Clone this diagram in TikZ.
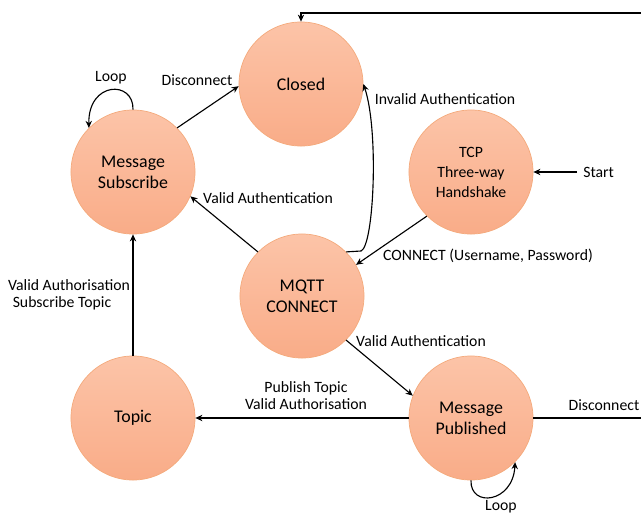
\documentclass[tikz,border=0pt]{standalone}
\usepackage{fontspec}
\setmainfont{Carlito}
\usetikzlibrary{arrows.meta}

\definecolor{sttop}{RGB}{252,196,168}
\definecolor{stbot}{RGB}{249,172,136}
\definecolor{stline}{RGB}{244,170,124}

\begin{document}
\begin{tikzpicture}[x=0.025cm,y=-0.025cm,
  state/.style={circle,minimum size=3.1cm,inner sep=0pt,top color=sttop,bottom color=stbot,draw=stline,line width=0.5pt,font=\fontsize{12.7}{15}\selectfont,align=center},
  small state/.style={state,font=\fontsize{11.2}{14.2}\selectfont},
  lbl/.style={font=\fontsize{11.2}{12.2}\selectfont,inner sep=0pt},
  arr/.style={line width=0.8pt,-{Stealth[length=5pt,width=4.5pt]}},
  ln/.style={line width=0.8pt}]
\useasboundingbox (0,0) rectangle (641,515);

%states
\node[state] (closed) at (301,84) {Closed};
\node[state] (sub) at (133,172) {Message\\Subscribe};
\node[small state] (tcp) at (471,172) {TCP\\Three-way\\Handshake};
\node[state] (mqtt) at (302,296) {MQTT\\CONNECT};
\node[state] (topic) at (133,418) {Topic};
\node[state] (pub) at (471,418) {Message\\Published};

%free ends
\coordinate (startpt) at (577,172);
\coordinate (topright) at (641,13);
\coordinate (pubright) at (641,418);

%transitions
\draw[arr] (startpt) -- (tcp.east);
\draw[arr] (tcp.225) -- (mqtt.30);
\draw[arr] (mqtt.45) -- (361,251) .. controls (374,246) and (379,130) .. (closed.east);
\draw[arr] (mqtt.135) -- (sub.-23);
\draw[arr] (sub.45) -- (closed.182);
\draw[arr] (sub.north) .. controls (134,80) and (88,81) .. (sub.135);
\draw[arr] (topic.north) -- (sub.south);
\draw[arr] (mqtt.-45) -- (pub.159);
\draw[arr] (pub.west) -- (topic.east);
\draw[arr] (pub.south) .. controls (470,508) and (513,503) .. (pub.-45);
\draw[ln] (pub.east) -- (pubright);
\draw[arr] (topright) -| (closed.north);

%labels
\node[lbl,anchor=west] (lstart) at (583,172) {Start};
\node[lbl] (lconnect) at (488,256) {CONNECT (Username, Password)};
\node[lbl] (linvalid) at (445,99) {Invalid Authentication};
\node[lbl] (lvalidsub) at (268,198) {Valid Authentication};
\node[lbl] (ldisc) at (197,80) {Disconnect};
\node[lbl] (lloopsub) at (111,78) {Loop};
\node[lbl,align=left] (lsubtopic) at (69,295) {Valid Authorisation\\\hspace{0.3em}Subscribe Topic};
\node[lbl] (lvalidpub) at (421,341) {Valid Authentication};
\node[lbl,align=center] (lpubtopic) at (306,396) {Publish Topic\hspace{1.2em}\\Valid Authorisation};
\node[lbl] (ldiscpub) at (604,405) {Disconnect};
\node[lbl] (lLooppub) at (501,507) {Loop};

\end{tikzpicture}
\end{document}
